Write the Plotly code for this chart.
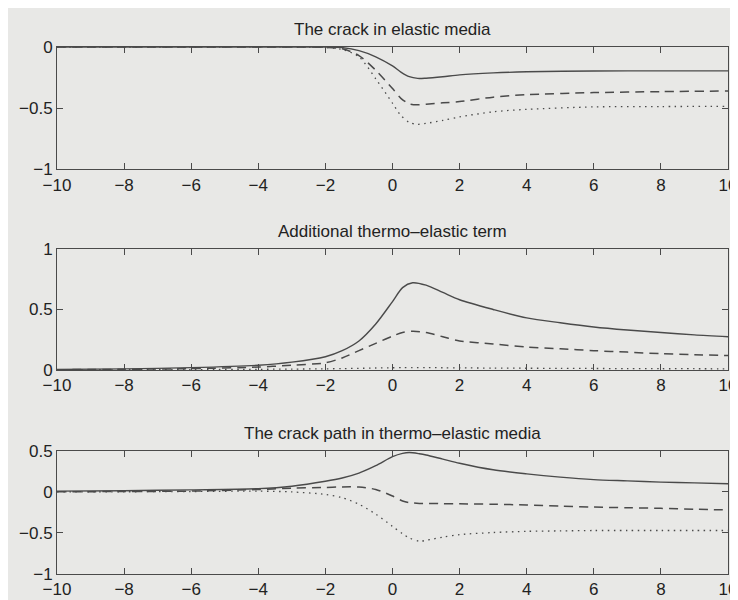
import plotly.graph_objects as go
from plotly.subplots import make_subplots

# ---------------- data ----------------
x_top = [-10, -6, -3, -2, -1.5, -1, -0.5, 0, 0.25, 0.5, 0.75, 1, 1.5, 2, 3, 4, 6, 8, 10]
top_solid = [0, 0, 0, 0, -0.005, -0.03, -0.08, -0.155, -0.205, -0.243, -0.257, -0.255, -0.243, -0.228, -0.212, -0.203, -0.196, -0.195, -0.195]
top_dash = [0, 0, 0, -0.003, -0.015, -0.07, -0.19, -0.34, -0.42, -0.465, -0.473, -0.468, -0.457, -0.446, -0.41, -0.39, -0.373, -0.365, -0.36]
top_dot = [0, 0, 0, -0.004, -0.02, -0.08, -0.26, -0.46, -0.56, -0.617, -0.632, -0.625, -0.6, -0.572, -0.53, -0.51, -0.49, -0.487, -0.486]

x_mid = [-10, -8, -6, -4, -3, -2, -1.5, -1, -0.5, 0, 0.3, 0.6, 1, 1.5, 2, 3, 4, 5, 6, 7, 8, 9, 10]
mid_solid = [0.005, 0.01, 0.02, 0.04, 0.065, 0.11, 0.16, 0.24, 0.38, 0.565, 0.68, 0.72, 0.70, 0.64, 0.58, 0.50, 0.43, 0.39, 0.355, 0.33, 0.31, 0.29, 0.275]
mid_dash = [0.003, 0.006, 0.012, 0.025, 0.04, 0.06, 0.1, 0.16, 0.22, 0.28, 0.31, 0.32, 0.31, 0.275, 0.24, 0.215, 0.19, 0.175, 0.16, 0.148, 0.135, 0.127, 0.12]
mid_dot = [0.002, 0.003, 0.004, 0.006, 0.008, 0.01, 0.012, 0.014, 0.017, 0.019, 0.02, 0.02, 0.02, 0.019, 0.018, 0.016, 0.015, 0.014, 0.013, 0.012, 0.011, 0.011, 0.01]

x_bot = [-10, -8, -6, -4, -3, -2, -1.5, -1, -0.5, 0, 0.3, 0.5, 0.8, 1, 1.5, 2, 3, 4, 5, 6, 7, 8, 9, 10]
bot_solid = [0.01, 0.015, 0.025, 0.04, 0.07, 0.13, 0.17, 0.23, 0.32, 0.43, 0.47, 0.48, 0.465, 0.45, 0.4, 0.35, 0.27, 0.22, 0.18, 0.15, 0.135, 0.12, 0.11, 0.1]
bot_dash = [0.002, 0.005, 0.01, 0.03, 0.045, 0.055, 0.06, 0.06, 0.03, -0.05, -0.11, -0.13, -0.14, -0.14, -0.143, -0.145, -0.15, -0.16, -0.172, -0.185, -0.193, -0.2, -0.21, -0.22]
bot_dot = [0, 0.002, 0.005, 0.01, 0.0, -0.03, -0.07, -0.15, -0.27, -0.42, -0.51, -0.56, -0.6, -0.59, -0.55, -0.52, -0.495, -0.48, -0.475, -0.47, -0.47, -0.47, -0.47, -0.47]

titles = ["The crack in elastic media",
          "Additional thermo\u2013elastic term",
          "The crack path in thermo\u2013elastic media"]
x_ticks = [-10, -8, -6, -4, -2, 0, 2, 4, 6, 8, 10]
x_ticklabels = ["\u221210", "\u22128", "\u22126", "\u22124", "\u22122", "0", "2", "4", "6", "8", "10"]
y_ticks = [[-1, -0.5, 0], [0, 0.5, 1], [-1, -0.5, 0, 0.5]]
y_ticklabels = [["\u22121", "\u22120.5", "0"], ["0", "0.5", "1"], ["\u22121", "\u22120.5", "0", "0.5"]]
y_ranges = [[-1, 0], [0, 1], [-1, 0.5]]

# ---------------- figure ----------------
BG = "#e8e8e6"
INK = "#4a4a4a"
FONT = "Liberation Sans, Arial, sans-serif"
FS = 17

fig = make_subplots(rows=3, cols=1, vertical_spacing=0.1)

series = [
    (x_top, [top_solid, top_dash, top_dot]),
    (x_mid, [mid_solid, mid_dash, mid_dot]),
    (x_bot, [bot_solid, bot_dash, bot_dot]),
]
dashes = ["solid", "9px,6px", "1.5px,4.5px"]
widths = [1.4, 1.5, 1.3]

for i, (xs, ys_list) in enumerate(series):
    for ys, d, w in zip(ys_list, dashes, widths):
        fig.add_trace(go.Scatter(x=xs, y=ys, mode="lines",
                                 line=dict(color=INK, width=w, dash=d, shape="spline", smoothing=0.8),
                                 showlegend=False, hoverinfo="skip"),
                      row=i + 1, col=1)

domains = [[0.768, 1.0], [0.387, 0.617], [0.0, 0.2336]]
for i in range(3):
    n = "" if i == 0 else str(i + 1)
    fig.layout["xaxis" + n].update(
        domain=[0, 1], range=[-10, 10], tickvals=x_ticks, ticktext=x_ticklabels,
        ticks="inside", ticklen=6, tickcolor=INK, showline=True, linecolor=INK, linewidth=1,
        mirror="ticks", showgrid=False, zeroline=False,
        tickfont=dict(family=FONT, size=FS, color="#222"))
    fig.layout["yaxis" + n].update(
        domain=domains[i], range=y_ranges[i], tickvals=y_ticks[i], ticktext=y_ticklabels[i],
        ticks="inside", ticklen=6, tickcolor=INK, showline=True, linecolor=INK, linewidth=1,
        mirror="ticks", showgrid=False, zeroline=False,
        tickfont=dict(family=FONT, size=FS, color="#222"))
    fig.add_annotation(text=titles[i], xref="paper", yref="paper", x=0.5, y=domains[i][1],
                       xanchor="center", yanchor="bottom", yshift=6, showarrow=False,
                       font=dict(family=FONT, size=FS, color="#222"))

fig.update_layout(width=738, height=600, paper_bgcolor=BG, plot_bgcolor=BG,
                  margin=dict(l=49, r=9, t=39, b=26))

fig.write_html("out.html")
